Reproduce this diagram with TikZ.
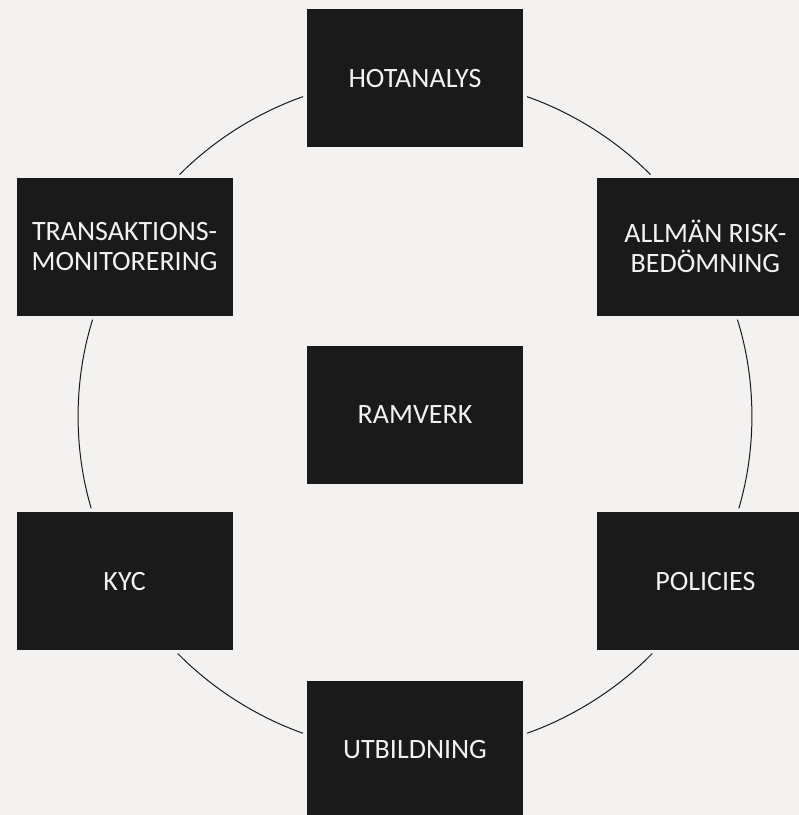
\documentclass[tikz,border=0pt]{standalone}
\usepackage{fontspec}
\setmainfont{Carlito}
\usetikzlibrary{positioning}
\definecolor{pagebg}{HTML}{F3F2F0}
\definecolor{boxblack}{HTML}{1A1A1A}
\definecolor{boxtext}{HTML}{F2F2F2}
\definecolor{ringline}{HTML}{1A1A1A}

\begin{document}
\begin{tikzpicture}[
      every node/.style={inner sep=0pt},
      topic/.style={fill=boxblack, text=boxtext, minimum width=216pt,
        minimum height=138pt, align=center, font=\fontsize{28}{30}\selectfont},
      ring/.style={draw=ringline, line width=1pt, looseness=0.87,
        shorten <=4pt, shorten >=4pt}
    ]
      \path[use as bounding box, fill=pagebg] (0,0) rectangle (799pt,-815pt);
      \node[topic] (ramverk) at (415pt,-415pt) {RAMVERK};
      \node[topic, above left=30pt and 74pt of ramverk] (transaktion) {TRANSAKTIONS-\\MONITORERING};
      \node[topic, above right=30pt and 74pt of ramverk] (riskbedomning) {ALLMÄN RISK-\\BEDÖMNING};
      \node[topic, below left=28pt and 74pt of ramverk] (kyc) {KYC};
      \node[topic, below right=28pt and 74pt of ramverk] (policies) {POLICIES};
      \node[topic, above right=30pt and 74pt of transaktion] (hotanalys) {HOTANALYS};
      \node[topic, below right=30pt and 74pt of kyc] (utbildning) {UTBILDNING};

      \draw[ring] (hotanalys.189) to[bend right=13] (transaktion.53);
      \draw[ring] (transaktion.246) to[bend right=17] (kyc.115);
      \draw[ring] (kyc.306) to[bend right=13] (utbildning.172);
      \draw[ring] (utbildning.8) to[bend right=13] (policies.234);
      \draw[ring] (policies.65) to[bend right=17] (riskbedomning.294);
      \draw[ring] (riskbedomning.127) to[bend right=13] (hotanalys.351);
    \end{tikzpicture}
\end{document}
